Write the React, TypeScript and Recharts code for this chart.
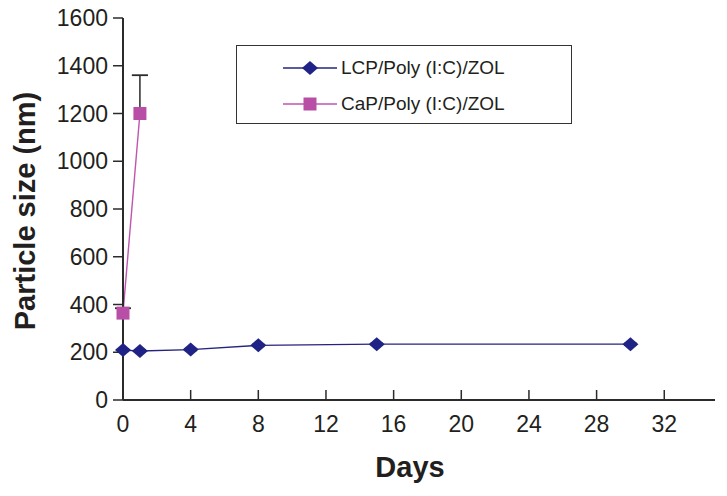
import React from 'react';
import { ComposedChart, Line, XAxis, YAxis, ErrorBar, Label } from 'recharts';

const lcpDays = [0, 1, 4, 8, 15, 30];
const lcpSize = [209, 205, 211, 229, 234, 234];
const lcpErr = [6, 5, 5, 5, 5, 5];

const capDays = [0, 1];
const capSize = [364, 1200];
const capErrUp = [20, 160];

const xTicks = [0, 4, 8, 12, 16, 20, 24, 28, 32];
const yTicks = [0, 200, 400, 600, 800, 1000, 1200, 1400, 1600];

const lcpName = 'LCP/Poly (I:C)/ZOL';
const capName = 'CaP/Poly (I:C)/ZOL';
const xTitle = 'Days';
const yTitle = 'Particle size (nm)';

const LCP_COLOR = '#24247c';
const LCP_MARK = '#1f2385';
const CAP_COLOR = '#bf55ae';
const CAP_MARK = '#b94ea7';
const AXIS = '#2b2b2b';
const TEXT = '#231f20';
const FONT = 'Liberation Sans, Arial, sans-serif';

const lcpData = lcpDays.map((d, i) => ({ day: d, size: lcpSize[i], err: lcpErr[i] }));
const capData = capDays.map((d, i) => ({ day: d, size: capSize[i], err: [0, capErrUp[i]] }));
const capTopData = capDays.map((d, i) => ({ day: d, top: capSize[i] + capErrUp[i], zero: [0, 0] }));

const Diamond = (props: any) => {
  const { cx, cy } = props;
  if (cx == null || cy == null) return null;
  return <path d={`M${cx},${cy - 7} L${cx + 8},${cy} L${cx},${cy + 7} L${cx - 8},${cy} Z`} fill={LCP_MARK} />;
};

const Square = (props: any) => {
  const { cx, cy } = props;
  if (cx == null || cy == null) return null;
  return <rect x={cx - 6.5} y={cy - 6.5} width={13} height={13} fill={CAP_MARK} />;
};

const XTick = (props: any) => {
  const { x, y, payload } = props;
  return (
    <g>
      <line x1={x} x2={x} y1={y} y2={y - 10} stroke={AXIS} strokeWidth={1.5} />
      <text x={x} y={y + 32} textAnchor="middle" fontSize={23} fill={TEXT} fontFamily={FONT}>
        {payload.value}
      </text>
    </g>
  );
};

const LegendBox = () => (
  <div
    style={{
      position: 'absolute',
      left: 236,
      top: 45,
      border: '1.5px solid #333',
      width: 336,
      height: 79,
      boxSizing: 'border-box',
      background: '#fff',
      fontFamily: FONT,
      fontSize: 19,
      color: TEXT,
    }}
  >
    {[
      { name: lcpName, color: LCP_COLOR, mark: 'd' },
      { name: capName, color: CAP_COLOR, mark: 's' },
    ].map((it, i) => (
      <div key={i} style={{ position: 'absolute', left: 46, top: i === 0 ? 10 : 46, display: 'flex', alignItems: 'center', height: 24 }}>
        <svg width={56} height={20} style={{ display: 'block' }}>
          <line x1={0} x2={54} y1={10} y2={10} stroke={it.color} strokeWidth={1.4} />
          {it.mark === 'd' ? (
            <path d="M27,3 L35,10 L27,17 L19,10 Z" fill={LCP_MARK} />
          ) : (
            <rect x={20.5} y={3.5} width={13} height={13} fill={CAP_MARK} />
          )}
        </svg>
        <span style={{ marginLeft: 2, whiteSpace: 'nowrap' }}>{it.name}</span>
      </div>
    ))}
  </div>
);

export default function App() {
  return (
    <div style={{ position: 'absolute', left: 0, top: 0, width: 727, height: 496 }}>
      <ComposedChart width={727} height={496} margin={{ top: 18, right: 12, bottom: 0, left: 0 }}>
        <XAxis
          type="number"
          dataKey="day"
          domain={[0, 35]}
          ticks={xTicks}
          allowDuplicatedCategory={false}
          height={96}
          axisLine={{ stroke: AXIS, strokeWidth: 2 }}
          tickLine={false}
          tickSize={0}
          tickMargin={0}
          tick={<XTick />}
          interval={0}
        >
          <Label
            content={() => (
              <text x={410} y={477} textAnchor="middle" fontSize={29} fontWeight="bold" fill={TEXT} fontFamily={FONT}>
                {xTitle}
              </text>
            )}
          />
        </XAxis>
        <YAxis
          type="number"
          domain={[0, 1600]}
          ticks={yTicks}
          width={123}
          interval={0}
          axisLine={{ stroke: AXIS, strokeWidth: 2 }}
          tickLine={{ stroke: AXIS, strokeWidth: 1.5 }}
          tickSize={10}
          tickMargin={5}
          tick={{ fontSize: 23, fill: TEXT, fontFamily: FONT }}
        >
          <Label
            content={() => (
              <text
                x={35}
                y={211}
                transform="rotate(-90 35 211)"
                textAnchor="middle"
                fontSize={29}
                fontWeight="bold"
                fill={TEXT}
                fontFamily={FONT}
              >
                {yTitle}
              </text>
            )}
          />
        </YAxis>
        <Line
          data={lcpData}
          dataKey="size"
          name={lcpName}
          stroke={LCP_COLOR}
          strokeWidth={1.4}
          dot={false}
          activeDot={false}
          isAnimationActive={false}
        >
          <ErrorBar dataKey="err" width={6} stroke={AXIS} strokeWidth={1.2} direction="y" isAnimationActive={false} />
        </Line>
        <Line
          data={capData}
          dataKey="size"
          name={capName}
          stroke={CAP_COLOR}
          strokeWidth={1.4}
          dot={false}
          activeDot={false}
          isAnimationActive={false}
        >
          <ErrorBar dataKey="err" width={0} stroke={AXIS} strokeWidth={1.5} direction="y" isAnimationActive={false} />
        </Line>
        <Line
          data={capTopData}
          dataKey="top"
          name={capName + ' caps'}
          stroke="none"
          dot={false}
          activeDot={false}
          legendType="none"
          isAnimationActive={false}
        >
          <ErrorBar dataKey="zero" width={8} stroke={AXIS} strokeWidth={1.5} direction="y" isAnimationActive={false} />
        </Line>
        <Line
          data={lcpData}
          dataKey="size"
          name={lcpName + ' markers'}
          stroke="none"
          dot={<Diamond />}
          activeDot={false}
          legendType="none"
          isAnimationActive={false}
        />
        <Line
          data={capData}
          dataKey="size"
          name={capName + ' markers'}
          stroke="none"
          dot={<Square />}
          activeDot={false}
          legendType="none"
          isAnimationActive={false}
        />
      </ComposedChart>
      <LegendBox />
    </div>
  );
}
